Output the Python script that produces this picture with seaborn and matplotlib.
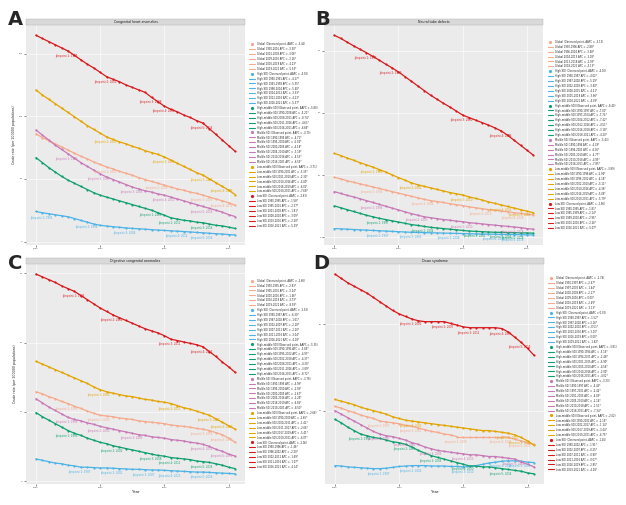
import numpy as np
import pandas as pd
import matplotlib
matplotlib.use("Agg")
import matplotlib.pyplot as plt
from matplotlib.lines import Line2D
from matplotlib.patches import Rectangle
import seaborn as sns

years = list(range(1990, 2022))
groups = ["Global", "High SDI", "High-middle SDI", "Middle SDI", "Low-middle SDI", "Low SDI"]
colors = ["#F6A98C", "#4DB3E6", "#0E9F6E", "#C878B6", "#E3A400", "#D7191C"]

# A: Congenital heart anomalies
a_global = [86, 83, 80.5, 78, 75.5, 73, 70.5, 68, 66, 63.5, 61.5, 59.5, 58, 56, 54.5, 53, 51, 49.5, 48, 46.5,
            45, 43.5, 42, 41, 39.5, 38.5, 37, 35.5, 34, 32.5, 31, 29]
a_high = [24, 23, 22.2, 21.4, 20.6, 19.8, 18.4, 16.9, 15.5, 14, 13, 12.4, 11.9, 11.4, 10.9, 10.5, 10.2, 9.9,
          9.5, 9.2, 8.9, 8.6, 8.3, 8, 7.7, 7.3, 7, 6.6, 6.3, 6, 5.6, 5.3]
a_highmid = [67, 63, 59, 55.5, 52, 49, 46.5, 44, 41.5, 39, 37, 35.5, 34, 32.5, 31, 29.5, 28, 26.5, 25, 23, 21,
             19, 18, 17, 16.5, 15.5, 15, 14, 13, 12.5, 11.5, 10.5]
a_middle = [89, 85, 81, 77, 73.5, 70, 66.5, 63, 60, 57, 54, 51.5, 49.5, 47.5, 45.5, 43.5, 42, 40.5, 39.5, 38,
            37, 35.5, 34, 32.5, 31, 29.5, 28, 26.5, 25, 23.5, 21.5, 20]
a_lowmid = [121, 117, 113.5, 110, 106.5, 103, 99.5, 96, 92.5, 89.5, 86.5, 83.5, 81.5, 79.5, 78, 76, 74.5, 72.5,
            71, 69.5, 67.5, 65, 62.5, 60, 57.5, 55, 53, 50, 47, 44, 41, 37.5]
a_low = [164.6, 162, 159.5, 157, 154.5, 152, 148.5, 145, 141.5, 138.5, 135, 131.5, 129.5, 127.5, 125, 123, 121,
         119, 115, 111.5, 108, 105.5, 103.5, 101, 99, 96.5, 94.5, 90, 85.5, 81, 76.5, 72]
a_jp = [[2001, 2009, 2016, 2019], [1991, 1998, 2004, 2012, 2016], [2008, 2011, 2016],
        [1995, 2000, 2005, 2010, 2016], [2001, 2010, 2016, 2019], [1995, 2001, 2008, 2010, 2016]]

# B: Neural tube defects
b_global = [19.3, 18.8, 18.2, 17.7, 17.2, 16.7, 16.2, 15.7, 15.2, 14.7, 14.2, 13.7, 13.2, 12.7, 12.2, 11.8,
            11.5, 11.2, 10.8, 10.5, 10.2, 9.8, 9.5, 9.2, 8.9, 8.7, 8.4, 8.2, 7.9, 7.7, 7.4, 7.2]
b_high = [2.8, 2.7, 2.6, 2.5, 2.4, 2.3, 2.2, 2.1, 2, 1.9, 1.8, 1.7, 1.6, 1.55, 1.5, 1.45, 1.4, 1.35, 1.3,
          1.25, 1.2, 1.15, 1.1, 1.05, 1, 0.97, 0.93, 0.9, 0.86, 0.82, 0.79, 0.75]
b_highmid = [10.1, 9.5, 8.9, 8.3, 7.7, 7.1, 6.6, 6.1, 5.7, 5.3, 4.9, 4.5, 4.1, 3.8, 3.5, 3.2, 3, 2.8, 2.6,
             2.4, 2.2, 2, 1.9, 1.8, 1.7, 1.6, 1.6, 1.5, 1.5, 1.4, 1.4, 1.3]
b_middle = [14.7, 14.1, 13.5, 13, 12.4, 11.8, 11.2, 10.6, 10, 9.4, 8.8, 8.2, 7.6, 7.1, 6.6, 6.3, 6, 5.7, 5.5,
            5.2, 5, 4.7, 4.5, 4.3, 4.1, 3.9, 3.7, 3.5, 3.3, 3.1, 2.8, 2.6]
b_lowmid = [27, 26.3, 25.5, 24.8, 24, 23.3, 22.6, 21.8, 21, 20.1, 19.2, 18.4, 17.5, 16.9, 16.4, 15.9, 15.4,
            14.9, 14.4, 14, 13.6, 13, 12.5, 12, 11.4, 10.9, 10.4, 9.9, 9.4, 8.9, 8.4, 7.9]
b_low = [65, 64, 62.8, 61.6, 60.5, 59.4, 58.2, 57, 55.7, 54.5, 53.2, 51.7, 50.2, 48.7, 47.2, 45.7, 44.4, 43.1,
         41.9, 40.6, 39.3, 38.5, 37.7, 36.9, 36.1, 35.2, 34.2, 32.8, 31.2, 29.6, 28, 26.4]
b_jp = [[1996, 2004, 2013, 2018], [1997, 2002, 2008, 2015, 2018], [1997, 2004, 2012, 2016, 2018],
        [1996, 2003, 2010, 2018], [1996, 2002, 2010, 2016, 2019], [1995, 1999, 2010, 2016]]

# C: Digestive congenital anomalies
c_global = [12.9, 12.6, 12.2, 11.9, 11.5, 11.2, 10.8, 10.5, 10.1, 9.8, 9.5, 9.4, 9.3, 9.1, 9, 8.9, 8.7, 8.6,
            8.5, 8.4, 8.3, 8.1, 8, 7.9, 7.8, 7.6, 7.5, 7.3, 7, 6.7, 6.2, 5.6]
c_high = [3.2, 3, 2.8, 2.6, 2.5, 2.3, 2.2, 2, 2, 1.95, 1.9, 1.9, 1.85, 1.8, 1.75, 1.7, 1.7, 1.65, 1.6, 1.6,
          1.55, 1.5, 1.45, 1.4, 1.35, 1.3, 1.3, 1.25, 1.2, 1.15, 1.1, 1.05]
c_highmid = [9.9, 9.3, 8.8, 8.3, 7.8, 7.3, 6.9, 6.6, 6.2, 5.9, 5.6, 5.4, 5.1, 4.9, 4.7, 4.5, 4.3, 4.1, 3.9,
             3.7, 3.6, 3.4, 3.3, 3.2, 3.1, 2.9, 2.8, 2.7, 2.5, 2.3, 2, 1.8]
c_middle = [11.9, 11.3, 10.7, 10.2, 9.7, 9.2, 8.9, 8.7, 8.4, 8.2, 7.9, 7.7, 7.5, 7.3, 7.1, 6.9, 6.7, 6.6, 6.4,
            6.3, 6.2, 6, 5.9, 5.8, 5.6, 5.5, 5.3, 5, 4.6, 4.3, 3.9, 3.6]
c_lowmid = [17.3, 16.9, 16.5, 16.1, 15.7, 15.3, 14.9, 14.5, 14.1, 13.6, 13.2, 12.9, 12.7, 12.5, 12.3, 12.2,
            12, 11.8, 11.7, 11.5, 11.4, 11.2, 10.9, 10.6, 10.4, 10.1, 9.8, 9.5, 9, 8.5, 8, 7.5]
c_low = [29.9, 29.5, 29.1, 28.7, 28.2, 27.8, 27.4, 26.8, 26.2, 25.6, 25, 24.5, 24, 23.6, 23.2, 22.8, 22.4, 22,
         21.7, 21.4, 21, 20.5, 20.3, 20.1, 19.9, 19.7, 19.4, 18.7, 18, 17.2, 16.5, 15.7]
c_jp = [[1995, 2000, 2016, 2019], [1997, 2002, 2007, 2011, 2016], [1995, 2002, 2008, 2011, 2016],
        [1995, 2000, 2005, 2016, 2019], [2000, 2011, 2017, 2019], [1996, 2002, 2011, 2016]]

# D: Down syndrome
d_global = [10.5, 10.3, 10, 9.8, 9.5, 9.3, 9.1, 8.8, 8.7, 8.6, 8.5, 8.3, 8.2, 8, 7.8, 7.6, 7.5, 7.3, 7.2, 7,
            7, 7, 7, 7, 7, 7, 7, 6.9, 6.7, 6.5, 6.3, 6.1]
d_high = [3.65, 3.6, 3.5, 3.45, 3.4, 3.35, 3.3, 3.3, 3.35, 3.45, 3.55, 3.6, 3.65, 3.65, 3.65, 3.6, 3.6, 3.6,
          3.55, 3.55, 3.5, 3.55, 3.65, 3.8, 3.95, 4.05, 4.15, 4.2, 4.2, 4.15, 4.05, 4]
d_highmid = [9, 8.6, 8.1, 7.7, 7.3, 7.1, 6.9, 6.8, 6.6, 6.4, 6.3, 6.1, 5.8, 5.4, 5.1, 4.8, 4.6, 4.4, 4.2, 4,
             3.8, 3.6, 3.6, 3.5, 3.5, 3.4, 3.3, 3.2, 3.1, 3, 2.8, 2.7]
d_middle = [10, 9.6, 9.2, 8.8, 8.4, 8, 7.6, 7.3, 7.1, 7, 6.8, 6.6, 6.3, 6.1, 5.8, 5.6, 5.4, 5.3, 5.2, 5.1, 5,
            4.9, 4.9, 4.8, 4.7, 4.7, 4.6, 4.5, 4.4, 4.1, 3.8, 3.5]
d_lowmid = [11.3, 11.1, 10.9, 10.7, 10.4, 10.2, 10, 9.8, 9.6, 9.3, 9.1, 8.9, 8.8, 8.7, 8.6, 8.5, 8.4, 8.3,
            8.2, 8.1, 8, 7.9, 7.8, 7.7, 7.7, 7.6, 7.5, 7.4, 7.2, 6.9, 6.5, 6]
d_low = [25.8, 25.3, 24.8, 24.4, 24, 23.6, 23.1, 22.6, 22.1, 21.6, 21.2, 20.9, 20.6, 20.4, 20.3, 20.3, 20.3,
         20.3, 20.1, 19.9, 19.7, 19.6, 19.6, 19.6, 19.6, 19.6, 19.5, 19.1, 18.5, 17.9, 17.2, 16.4]
d_jp = [[1997, 2002, 2009, 2016, 2019], [1997, 2002, 2010, 2016, 2019], [1994, 2001, 2005, 2010, 2016],
        [1997, 2001, 2005, 2010, 2018], [2002, 2017, 2019], [2002, 2007, 2011, 2016, 2019]]

panels = [
    ("A", "Congenital heart anomalies", [a_global, a_high, a_highmid, a_middle, a_lowmid, a_low], a_jp, [0, 50, 100, 150]),
    ("B", "Neural tube defects", [b_global, b_high, b_highmid, b_middle, b_lowmid, b_low], b_jp, [0, 20, 40, 60]),
    ("C", "Digestive congenital anomalies", [c_global, c_high, c_highmid, c_middle, c_lowmid, c_low], c_jp, [0, 10, 20, 30]),
    ("D", "Down syndrome", [d_global, d_high, d_highmid, d_middle, d_lowmid, d_low], d_jp, [10, 20]),
]

sns.set_theme(style="darkgrid", rc={
    "axes.facecolor": "#EBEBEB", "grid.color": "white", "grid.linewidth": 0.4,
    "xtick.bottom": True, "ytick.left": True,
})
plt.rcParams["font.family"] = ["DejaVu Sans"]

fig = plt.figure(figsize=(6.26, 5.05), dpi=100)
positions = [(0.0415, 0.515), (0.518, 0.515), (0.0415, 0.042), (0.519, 0.042)]
letter_pos = [(0.012, 0.962), (0.503, 0.962), (0.012, 0.478), (0.501, 0.478)]

for i, (letter, title, series, jps, yticks) in enumerate(panels):
    ax = fig.add_axes([positions[i][0], positions[i][1], 0.35, 0.435])
    handles, labels = [], []
    for g, vals, jp, col in zip(groups, series, jps, colors):
        df = pd.DataFrame({"year": years, "rate": vals})
        aapc = (np.exp(np.log(vals[-1] / vals[0]) / (years[-1] - years[0])) - 1) * 100
        handles.append(Line2D([], [], marker="o", ls="none", ms=1.3, color=col))
        labels.append(f"{g} (Observed point, AAPC = {aapc:.2f})")
        bounds = [1990] + jp + [2021]
        for s0, s1 in zip(bounds[:-1], bounds[1:]):
            seg = df[(df.year >= s0) & (df.year <= s1)]
            sns.lineplot(data=seg, x="year", y="rate", color=col, lw=0.9, ax=ax, legend=False)
            apc = (np.exp(np.polyfit(seg.year, np.log(seg.rate), 1)[0]) - 1) * 100
            handles.append(Line2D([], [], lw=0.8, color=col))
            labels.append(f"{g} {s0}-{s1} APC = {apc:.2f}*")
        sns.scatterplot(data=df, x="year", y="rate", color=col, s=2.5, linewidth=0, ax=ax, legend=False)
        for k, y in enumerate(jp):
            v = vals[years.index(y)]
            ax.annotate(f"Joinpoint {k + 1}: {y}", (y, v), xytext=(-1, -2.2), textcoords="offset points",
                        ha="center", va="top", fontsize=1.9, color=col)

    ax.set_xticks([1990, 2000, 2010, 2020])
    ax.set_yticks(yticks)
    ax.tick_params(length=1.5, width=0.4, color="#333333", labelsize=1.6, pad=1, labelcolor="#4D4D4D")
    ax.grid(True)
    for sp in ax.spines.values():
        sp.set_visible(False)
    ax.set_xlabel("Year" if i >= 2 else "", fontsize=3, labelpad=1.5)
    ax.set_ylabel("Crude rate (per 100000 populations)" if i % 2 == 0 else "", fontsize=2.3, labelpad=2)

    ax.add_patch(Rectangle((0, 1), 1, 0.028, transform=ax.transAxes, clip_on=False,
                           facecolor="#D9D9D9", edgecolor="#B0B0B0", lw=0.3))
    ax.text(0.5, 1.014, title, transform=ax.transAxes, ha="center", va="center", fontsize=2.3, color="#1A1A1A")

    ax.legend(handles, labels, loc="center left", bbox_to_anchor=(1.015, 0.5), fontsize=1.8, frameon=False,
              handlelength=2.2, handleheight=1.5, handletextpad=0.8, labelspacing=0.36, borderaxespad=0)

    fig.text(letter_pos[i][0], letter_pos[i][1], letter, fontsize=14, fontweight="bold", va="center")

fig.savefig("out.png", dpi=100, facecolor="white")
